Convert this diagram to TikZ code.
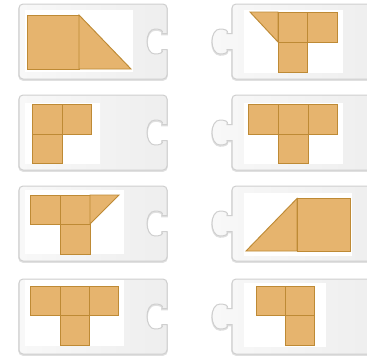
\documentclass[tikz,border=0pt]{standalone}
\usepackage{xcolor}
\definecolor{tile}{HTML}{E6B46E}
\definecolor{tileedge}{HTML}{BE8A35}
\definecolor{cardedge}{HTML}{CFCFCF}
\definecolor{cardleft}{HTML}{F8F8F8}
\definecolor{cardright}{HTML}{EEEEEE}
\begin{document}
\begin{tikzpicture}[x=0.75pt,y=-0.75pt,
  tilestyle/.style={fill=tile,draw=tileedge,line width=0.7},
  cardstyle/.style={draw=cardedge,line width=0.75,left color=cardleft,right color=cardright},
  shadowstyle/.style={draw=black!12,line width=1.2},
  innerstyle/.style={fill=white}]
\useasboundingbox (0,0) rectangle (367,355);
\clip (0,0) rectangle (367,355);
\foreach \t in {4,95,186,279}{
\begin{scope}[shift={(0,\t)}]
  % left card with socket on the right
  \path[shadowstyle,shift={(0,1)}] (19,37.5) [rounded corners=3] |- (167,0) -- (167,20) [sharp corners] -- (167,29.5) -- (162,29.5)
    .. controls (164,26) and (159,25) .. (155,25) .. controls (150,25) and (147,31) .. (147,37.5)
    .. controls (147,44) and (150,50) .. (155,50) .. controls (159,50) and (164,49) .. (162,45.5)
    -- (167,45.5) -- (167,55) [rounded corners=3] -- (167,75) -| (19,37.5) -- cycle;
  \path[cardstyle] (19,37.5) [rounded corners=3] |- (167,0) -- (167,20) [sharp corners] -- (167,29.5) -- (162,29.5)
    .. controls (164,26) and (159,25) .. (155,25) .. controls (150,25) and (147,31) .. (147,37.5)
    .. controls (147,44) and (150,50) .. (155,50) .. controls (159,50) and (164,49) .. (162,45.5)
    -- (167,45.5) -- (167,55) [rounded corners=3] -- (167,75) -| (19,37.5) -- cycle;
  % right card with tab on the left
  \path[shadowstyle,shift={(0,1)}] (232,20) [rounded corners=3] |- (380,0) -- (380,75) -| (232,60) [sharp corners] -- (232,45.5) -- (227,45.5)
    .. controls (229,49) and (224,50) .. (220,50) .. controls (215,50) and (212,44) .. (212,37.5)
    .. controls (212,31) and (215,25) .. (220,25) .. controls (224,25) and (229,26) .. (227,29.5)
    -- (232,29.5) -- cycle;
  \path[cardstyle] (232,20) [rounded corners=3] |- (380,0) -- (380,75) -| (232,60) [sharp corners] -- (232,45.5) -- (227,45.5)
    .. controls (229,49) and (224,50) .. (220,50) .. controls (215,50) and (212,44) .. (212,37.5)
    .. controls (212,31) and (215,25) .. (220,25) .. controls (224,25) and (229,26) .. (227,29.5)
    -- (232,29.5) -- cycle;
\end{scope}}
% white inner panels
\fill[innerstyle] (25,10) rectangle (133,72);
\fill[innerstyle] (244,10) rectangle (343,73);
\fill[innerstyle] (25,103) rectangle (100,164);
\fill[innerstyle] (244,103) rectangle (343,164);
\fill[innerstyle] (25,190) rectangle (124,254);
\fill[innerstyle] (244,193) rectangle (352,256);
\fill[innerstyle] (25,280) rectangle (124,346);
\fill[innerstyle] (244,283) rectangle (326,347);
% card 1
\draw[tilestyle] (27,15) rectangle (79,69);
\draw[tilestyle] (79,15) -- (131,69) -- (79,69) -- cycle;
% card 2
\draw[tilestyle] (250,12) -- (278,12) -- (278,42) -- cycle;
\draw[tilestyle] (278,12) rectangle (307.5,42);
\draw[tilestyle] (307.5,12) rectangle (337,42);
\draw[tilestyle] (278,42) rectangle (307.5,72);
% card 3
\draw[tilestyle] (32,104) rectangle (62,134);
\draw[tilestyle] (62,104) rectangle (91,134);
\draw[tilestyle] (32,134) rectangle (62,163);
% card 4
\draw[tilestyle] (248,104) rectangle (278,134);
\draw[tilestyle] (278,104) rectangle (308,134);
\draw[tilestyle] (308,104) rectangle (337,134);
\draw[tilestyle] (278,134) rectangle (308,163);
% card 5
\draw[tilestyle] (30,195) rectangle (60,224);
\draw[tilestyle] (60,195) rectangle (90,224);
\draw[tilestyle] (90,195) -- (119,195) -- (90,224) -- cycle;
\draw[tilestyle] (60,224) rectangle (90,254);
% card 6
\draw[tilestyle] (246,251) -- (297,198.5) -- (297,251) -- cycle;
\draw[tilestyle] (297,198.5) rectangle (350.5,251);
% card 7
\draw[tilestyle] (30,286) rectangle (60,315);
\draw[tilestyle] (60,286) rectangle (89,315);
\draw[tilestyle] (89,286) rectangle (118.5,315);
\draw[tilestyle] (60,315) rectangle (89,345);
% card 8
\draw[tilestyle] (256,286) rectangle (285,315);
\draw[tilestyle] (285,286) rectangle (314,315);
\draw[tilestyle] (285,315) rectangle (314,345);
\end{tikzpicture}
\end{document}
